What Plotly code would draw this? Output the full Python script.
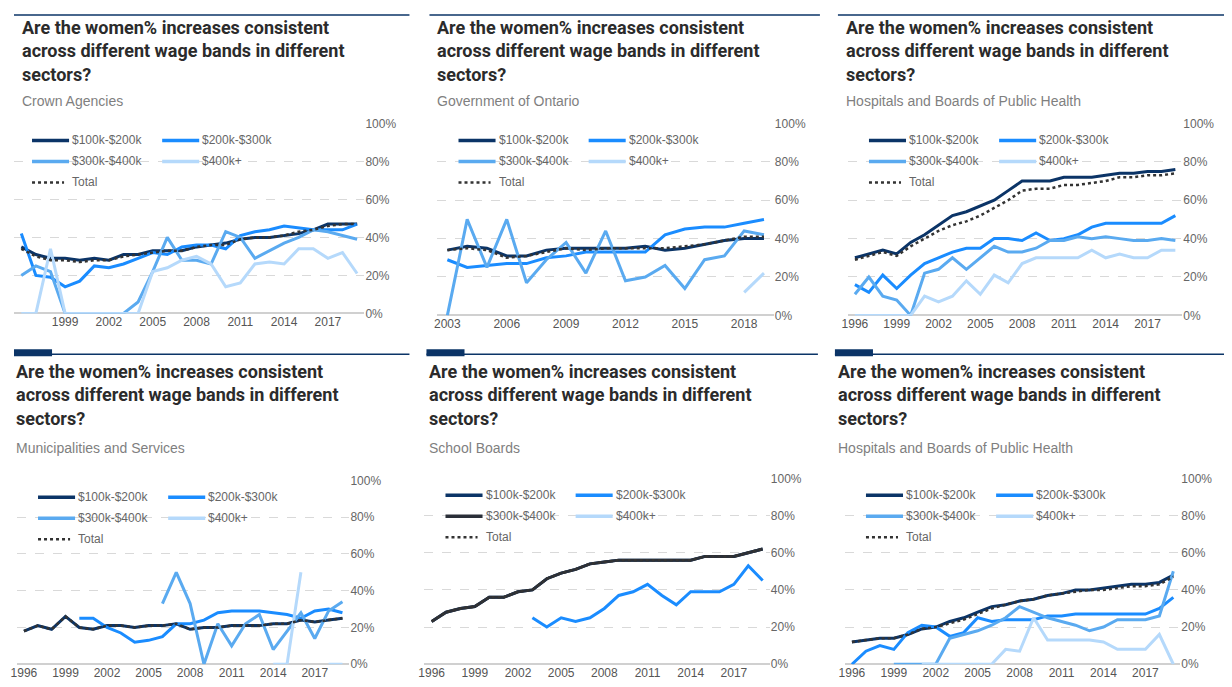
import plotly.graph_objects as go

W, H = 1232, 687

TITLE = "Are the women% increases consistent<br>across different wage bands in different<br>sectors?"
BANDS = ["$100k-$200k", "$200k-$300k", "$300k-$400k", "$400k+"]
N = None

# --- data (women %) ---
years_96 = list(range(1996, 2020))
years_03 = list(range(2003, 2020))

crown_a = [35, 31, 29, 29, 28, 29, 28, 31, 31, 33, 33, 33, 35, 36, 37, 39, 40, 40, 41, 42, 44, 47, 47, 47]
crown_b = [42, 20, 19, 14, 17, 25, 24, 26, 29, 32, 31, 35, 36, 36, 34, 41, 43, 44, 46, 45, 44, 44, 44, 47]
crown_c = [20, 25, 22, 0, 0, 0, 0, 0, 6, 22, 40, 28, 28, 26, 43, 40, 29, 33, 37, 40, 44, 43, 41, 39]
crown_d = [0, 0, 34, 0, 0, 0, 0, 0, 0, 22, 24, 28, 30, 26, 14, 16, 26, 27, 26, 34, 34, 29, 32, 21]
crown_t = [34, 30, 28, 28, 27, 28, 28, 30, 31, 32, 33, 33, 35, 36, 36, 39, 40, 40, 41, 43, 44, 46, 47, 47]

ont_a = [34, 36, 35, 31, 31, 34, 35, 35, 35, 35, 36, 34, 35, 37, 39, 40, 40]
ont_b = [29, 25, 26, 27, 27, 30, 31, 33, 33, 33, 33, 42, 45, 46, 46, 48, 50]
ont_c = [0, 50, 25, 50, 17, 29, 38, 22, 44, 18, 20, 26, 14, 29, 31, 44, 42]
ont_d = [N] * 15 + [12, 22]
ont_t = [34, 35, 34, 30, 31, 33, 35, 34, 35, 35, 35, 35, 36, 37, 39, 41, 41]

hosp_a = [30, 32, 34, 32, 38, 42, 47, 52, 54, 57, 60, 65, 70, 70, 70, 72, 72, 72, 73, 74, 74, 75, 75, 76]
hosp_b = [16, 12, 21, 14, 21, 27, 30, 33, 35, 35, 40, 40, 39, 43, 39, 40, 42, 46, 48, 48, 48, 48, 48, 52]
hosp_c = [11, 20, 10, 8, 0, 22, 24, 30, 24, 30, 36, 33, 33, 35, 39, 39, 41, 40, 41, 40, 39, 39, 40, 39]
hosp_d = [0, 0, 0, 0, 0, 10, 7, 10, 18, 11, 21, 17, 27, 30, 30, 30, 30, 34, 30, 32, 30, 30, 34, 34]
hosp_t = [29, 31, 33, 31, 36, 40, 44, 47, 49, 52, 56, 60, 65, 66, 66, 68, 68, 69, 70, 72, 72, 73, 73, 74]

muni_a = [18, 21, 19, 26, 20, 19, 21, 21, 20, 21, 21, 22, 19, 20, 20, 21, 21, 21, 22, 22, 24, 23, 24, 25]
muni_b = [N] * 4 + [25, 25, 20, 17, 12, 13, 15, 22, 22, 24, 28, 29, 29, 29, 28, 27, 25, 29, 30, 28]
muni_c = [N] * 10 + [33, 50, 33, 0, 22, 10, 22, 27, 8, 18, 28, 14, 29, 34]
muni_d = [N] * 18 + [0, 0, 50, N, 0, 0]
muni_t = [18, 21, 19, 26, 20, 19, 21, 21, 20, 21, 21, 22, 19, 20, 20, 21, 21, 21, 22, 22, 24, 23, 24, 25]

school_a = [23, 28, 30, 31, 36, 36, 39, 40, 46, 49, 51, 54, 55, 56, 56, 56, 56, 56, 56, 58, 58, 58, 60, 62]
school_b = [N] * 7 + [25, 20, 25, 23, 25, 30, 37, 39, 43, 37, 32, 39, 39, 39, 43, 53, 45]
school_c = school_a
school_d = [N] * 24
school_t = school_a

hosp2_a = [12, 13, 14, 14, 16, 19, 20, 23, 25, 28, 31, 32, 34, 35, 37, 38, 40, 40, 41, 42, 43, 43, 44, 48]
hosp2_b = [0, 7, 10, 8, 17, 21, 20, 15, 17, 25, 23, 24, 24, 24, 26, 26, 27, 27, 27, 27, 27, 27, 30, 36]
hosp2_c = [N] * 3 + [0, 0, 0, 0, 14, 16, 18, 21, 25, 31, 28, 25, 23, 21, 18, 20, 24, 24, 24, 26, 50]
hosp2_d = [N] * 5 + [0, 0, 0, 0, 0, 0, 8, 7, 25, 13, 13, 13, 13, 12, 8, 8, 8, 16, 0]
hosp2_t = [12, 13, 14, 14, 16, 19, 20, 22, 24, 27, 30, 32, 34, 35, 37, 38, 39, 40, 40, 41, 42, 42, 43, 47]

COLORS = ["#0b3467", "#1a8cff", "#5aaaf0", "#b5d9fb"]
COLORS_SCHOOL = ["#0b3467", "#1a8cff", "#2a2f38", "#b5d9fb"]

panels = [
    dict(sub="Crown Agencies", x=years_96, s=[crown_a, crown_b, crown_c, crown_d], t=crown_t,
         box=(12, 365, 123, 313), head=(15, 410, 23, 7), cols=COLORS),
    dict(sub="Government of Ontario", x=years_03, s=[ont_a, ont_b, ont_c, ont_d], t=ont_t,
         box=(438, 774, 123, 315), head=(430, 820, 438, 7), cols=COLORS),
    dict(sub="Hospitals and Boards of Public Health", x=years_96, s=[hosp_a, hosp_b, hosp_c, hosp_d], t=hosp_t,
         box=(848, 1182, 123, 315), head=(838, 1225, 846, 7), cols=COLORS),
    dict(sub="Municipalities and Services", x=years_96, s=[muni_a, muni_b, muni_c, muni_d], t=muni_t,
         box=(18, 350, 480, 664), head=(15, 410, 15, 354), cols=COLORS),
    dict(sub="School Boards", x=years_96, s=[school_a, school_b, school_c, school_d], t=school_t,
         box=(425, 770, 478, 664), head=(427, 818, 430, 354), cols=COLORS_SCHOOL),
    dict(sub="Hospitals and Boards of Public Health", x=years_96, s=[hosp2_a, hosp2_b, hosp2_c, hosp2_d], t=hosp2_t,
         box=(845, 1180, 478, 664), head=(835, 1225, 838, 354), cols=COLORS),
]

# the page shows the figure slightly offset/scaled; map reference pixels to layout pixels
def px(v):
    return max(0.0, (v - 15) / 0.994) / W


def py(v):
    return 1 - max(0.0, (v - 14.5) / 0.98) / H


fig = go.Figure()
shapes, annos = [], []

for i, p in enumerate(panels):
    k = "" if i == 0 else str(i + 1)
    L, R, T, B = p["box"]
    x0 = p["x"][0]
    for vals, name, col in zip(p["s"], BANDS, p["cols"]):
        fig.add_trace(go.Scatter(x=p["x"], y=vals, name=name, mode="lines",
                                 line=dict(color=col, width=3), showlegend=False,
                                 xaxis="x" + k, yaxis="y" + k))
    fig.add_trace(go.Scatter(x=p["x"], y=p["t"], name="Total", mode="lines",
                             line=dict(color="#333", width=2.5, dash="dot"), showlegend=False,
                             xaxis="x" + k, yaxis="y" + k))
    fig.layout["xaxis" + k] = dict(domain=[px(L), px(R)], range=[x0 - 0.5, 2019.5], anchor="y" + k,
                                   tickvals=list(range(x0, 2019, 3)), showgrid=False, zeroline=False,
                                   tickfont=dict(size=12, color="#555"), ticks="")
    yt = [0, 20, 40, 60, 80, 100]
    fig.layout["yaxis" + k] = dict(domain=[py(B), py(T)], range=[0, 100], anchor="x" + k, side="right",
                                   tickvals=yt, ticktext=[f"{v}%" for v in yt],
                                   gridcolor="#d9d9d9", griddash="dash", zeroline=True,
                                   zerolinecolor="#d0d0d0", zerolinewidth=1.5,
                                   tickfont=dict(size=12, color="#666"))

    # header bar
    h0, h1, tx, hy = p["head"]
    shapes.append(dict(type="line", xref="paper", yref="paper", x0=px(h0), x1=px(h1), y0=py(hy),
                       y1=py(hy), line=dict(color="#0b3467", width=1.5)))
    shapes.append(dict(type="rect", xref="paper", yref="paper", x0=px(h0), x1=px(h0 + 38),
                       y0=py(hy + 2), y1=py(hy - 5), fillcolor="#0b3467", line=dict(width=0)))
    annos.append(dict(text="<b>" + TITLE + "</b>", xref="paper", yref="paper", x=px(tx - 2), y=py(hy + 5),
                      xanchor="left", yanchor="top", showarrow=False, align="left",
                      font=dict(family="Roboto, Arial", size=18, color="#2b2b2b")))
    annos.append(dict(text=p["sub"], xref="paper", yref="paper", x=px(tx - 2), y=py(hy + 94),
                      xanchor="left", yanchor="middle", showarrow=False,
                      font=dict(family="Liberation Sans, Arial", size=14, color="#7f7f7f")))

    # legend
    items = list(zip(BANDS, p["cols"])) + [("Total", "#333")]
    for j, (name, col) in enumerate(items):
        row, c = divmod(j, 2)
        lx = L + 21 + c * 130
        ly = T + 17 + row * 21
        dot = name == "Total"
        shapes.append(dict(type="line", xref="paper", yref="paper", x0=px(lx), x1=px(lx + (32 if dot else 37)),
                           y0=py(ly), y1=py(ly),
                           line=dict(color=col, width=2.5 if dot else 3.5, dash="dot" if dot else "solid")))
        annos.append(dict(text=name, xref="paper", yref="paper", x=px(lx + 38), y=py(ly),
                          xanchor="left", yanchor="middle", showarrow=False,
                          font=dict(family="Liberation Sans, Arial", size=12, color="#666")))

fig.update_layout(width=W, height=H, margin=dict(l=0, r=0, t=0, b=0),
                  paper_bgcolor="white", plot_bgcolor="white",
                  font=dict(family="Liberation Sans, Arial"),
                  shapes=shapes, annotations=annos, showlegend=False)
fig.write_html("out.html")
